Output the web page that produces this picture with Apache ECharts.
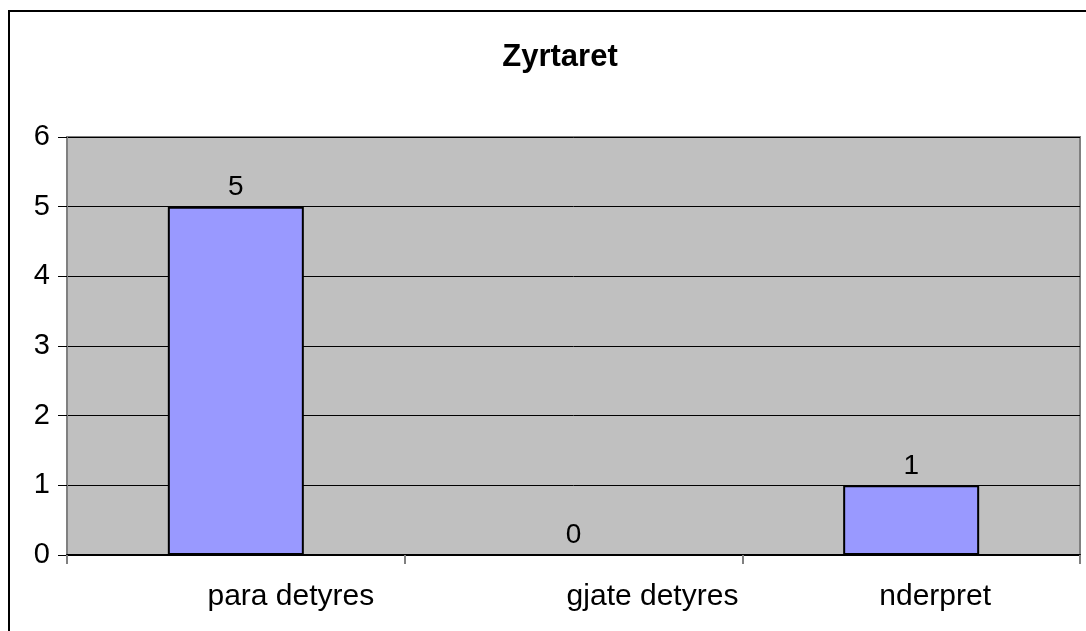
<html style="width: 100%; height: 100%">
<head>
    <meta charset="utf-8">
    <script src="https://cdn.jsdelivr.net/npm/echarts@6/dist/echarts.min.js"></script>
</head>
<body style="width: 100%; height: 100%; margin: 0; background: #fff">
<div id="container" style="width: 1086px; height: 631px"></div>

<script type="text/javascript">
    var categories = ['para detyres', 'gjate detyres', 'nderpret'];
    var values = [5, 0, 1];
    var chartTitle = 'Zyrtaret';

    var myChart = echarts.init(document.getElementById('container'));
    var font = 'Liberation Sans, Arial, sans-serif';

    // the source draws its category labels a bit right of the slot centre
    var labelShift = [110, 158, 48];
    var catData = categories.map(function (c, i) {
        return {value: c, textStyle: {padding: [0, 0, 0, labelShift[i]]}};
    });

    var option = {
        backgroundColor: '#ffffff',
        animation: false,
        title: {
            text: chartTitle,
            left: 555,
            textAlign: 'center',
            top: 37,
            textStyle: {fontFamily: font, fontSize: 31, fontWeight: 'bold', color: '#000'}
        },
        graphic: [
            {
                type: 'rect',
                shape: {x: 9, y: 11, width: 1200, height: 700},
                style: {fill: 'none', stroke: '#000', lineWidth: 2},
                silent: true
            }
        ],
        grid: {
            left: 67, top: 137, width: 1013, height: 418,
            show: true,
            backgroundColor: '#c0c0c0',
            borderColor: '#808080',
            borderWidth: 2
        },
        xAxis: {
            type: 'category',
            data: catData,
            axisLine: {lineStyle: {color: '#000', width: 2}},
            axisTick: {show: true, length: 9, lineStyle: {color: '#808080', width: 2}},
            axisLabel: {fontFamily: font, fontSize: 30, color: '#000', margin: 27}
        },
        yAxis: {
            type: 'value',
            min: 0, max: 6, interval: 1,
            axisLine: {show: true, lineStyle: {color: '#808080', width: 2}},
            axisTick: {show: true, length: 9, lineStyle: {color: '#000', width: 1}},
            axisLabel: {fontFamily: font, fontSize: 29, color: '#000', margin: 17},
            splitLine: {lineStyle: {color: '#000', width: 1}}
        },
        series: [{
            type: 'bar',
            data: values,
            barWidth: 136,
            itemStyle: {color: '#9999ff', borderColor: '#000', borderWidth: 2},
            label: {
                show: true, position: 'top', distance: 5,
                fontFamily: font, fontSize: 28, color: '#000'
            }
        }]
    };
    myChart.setOption(option);
</script>
</body>
</html>
